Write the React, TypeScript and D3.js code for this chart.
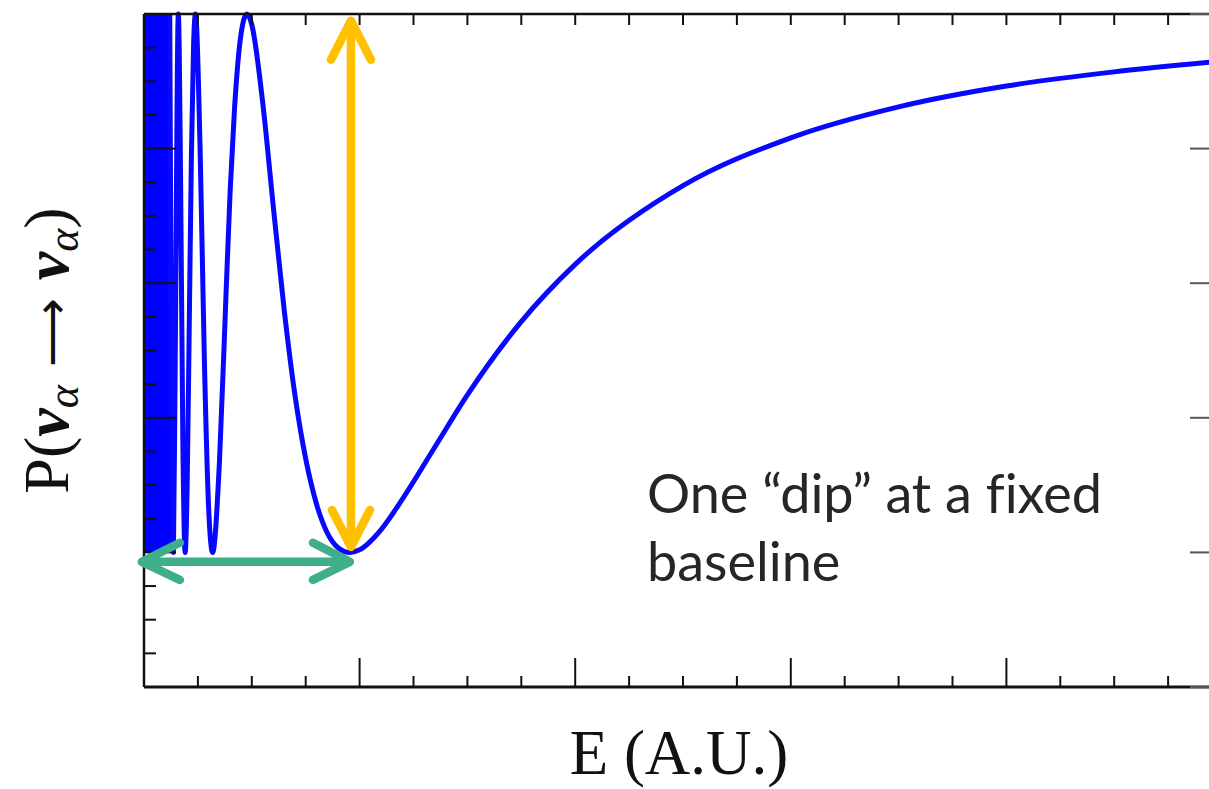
import React from "react";
import * as d3 from "d3";

// Survival probability curve (E in A.U., P)
const energy = [
  0.1194, 0.1364, 0.145, 0.1592, 0.17, 0.18, 0.191, 0.2, 0.21, 0.22, 0.23, 0.2387,
  0.26, 0.28, 0.3, 0.3183, 0.35, 0.38, 0.4, 0.42, 0.45, 0.4775, 0.5, 0.55, 0.6,
  0.65, 0.7, 0.75, 0.8, 0.85, 0.9, 0.955, 1.0, 1.1, 1.2, 1.35, 1.5, 1.75, 2.0,
  2.5, 3.0, 3.5, 4.0, 4.5, 5.0,
];
const probability = [
  1.0, 0.2, 0.495, 1.0, 0.744, 0.37, 0.2, 0.296, 0.541, 0.792, 0.955, 1.0,
  0.803, 0.486, 0.264, 0.2, 0.335, 0.58, 0.74, 0.86, 0.97, 1.0, 0.984, 0.87, 0.713,
  0.561, 0.434, 0.339, 0.272, 0.229, 0.207, 0.2, 0.204, 0.234, 0.28, 0.357, 0.434,
  0.543, 0.628, 0.745, 0.816, 0.862, 0.893, 0.914, 0.93,
];
// Unresolved fast oscillations at low energy (solid band)
const denseBandE = [0, 0.128];
const denseBandP = [0.2, 1.0];

const xMajorTicks = [0, 1, 2, 3, 4, 5];
const xMinorTicks = [0.25, 0.5, 0.75, 1.25, 1.5, 1.75, 2.25, 2.5, 2.75, 3.25, 3.5, 3.75, 4.25, 4.5, 4.75];
const yMajorTicks = [0, 0.2, 0.4, 0.6, 0.8, 1.0];
const yMinorTicks = [0.05, 0.1, 0.15, 0.25, 0.3, 0.35, 0.45, 0.5, 0.55, 0.65, 0.7, 0.75, 0.85, 0.9, 0.95];

// Annotation arrows (data coordinates)
const depthArrowE = 0.96;
const depthArrowP = [0.99, 0.208];
const widthArrowE = [-0.01, 0.955];
const widthArrowP = 0.186;

const annotationLines = ["One \u201Cdip\u201D at a fixed", "baseline"];

const W = 1209;
const H = 789;

export default function App() {
  const x = d3.scaleLinear().domain([0, 5]).range([144, 1222]);
  const y = d3.scaleLinear().domain([0, 1]).range([687, 14]);

  const pts = energy.map((e, i) => [e, probability[i]] as [number, number]);
  const line = d3
    .line<[number, number]>()
    .x((d) => x(d[0]))
    .y((d) => y(d[1]))
    .curve(d3.curveMonotoneX);

  const band = d3
    .area<number>()
    .x((d) => x(d))
    .y0(y(denseBandP[0]))
    .y1(y(denseBandP[1]));

  const [x0, x1] = x.range();
  const [yb, yt] = y.range();

  const axisColor = "#111";

  const ax = x(depthArrowE);
  const aTop = y(depthArrowP[0]);
  const aBot = y(depthArrowP[1]);
  const gy = y(widthArrowP);
  const gL = x(widthArrowE[0]);
  const gR = x(widthArrowE[1]);

  return (
    <svg
      width={W}
      height={H}
      style={{ position: "absolute", left: 0, top: 0, background: "#fff" }}
    >
      <rect x={0} y={0} width={W} height={H} fill="#fff" />
      <path d={band(denseBandE) || ""} fill="#0000ff" />
      <path
        d={line(pts) || ""}
        fill="none"
        stroke="#0808ff"
        strokeWidth={5}
        strokeLinejoin="round"
      />

      {/* frame */}
      <line x1={x0} y1={yb} x2={x1} y2={yb} stroke={axisColor} strokeWidth={3} />
      <line x1={x0} y1={yt} x2={x1} y2={yt} stroke={axisColor} strokeWidth={2.5} />
      <line x1={x0} y1={yt} x2={x0} y2={yb} stroke={axisColor} strokeWidth={2.5} />
      <line x1={x1} y1={yt} x2={x1} y2={yb} stroke={axisColor} strokeWidth={2.5} />

      {xMajorTicks.map((t) => (
        <g key={"xM" + t}>
          <line x1={x(t)} x2={x(t)} y1={yb} y2={yb - 29} stroke={axisColor} strokeWidth={2} />
          <line x1={x(t)} x2={x(t)} y1={yt} y2={yt + 11} stroke={axisColor} strokeWidth={2} />
        </g>
      ))}
      {xMinorTicks.map((t) => (
        <g key={"xm" + t}>
          <line x1={x(t)} x2={x(t)} y1={yb} y2={yb - 11} stroke={axisColor} strokeWidth={2} />
          <line x1={x(t)} x2={x(t)} y1={yt} y2={yt + 11} stroke={axisColor} strokeWidth={2} />
        </g>
      ))}
      {yMajorTicks.map((t) => (
        <g key={"yM" + t}>
          <line x1={x0} x2={x0 + 32} y1={y(t)} y2={y(t)} stroke={axisColor} strokeWidth={2} />
          <line x1={x1} x2={x1 - 32} y1={y(t)} y2={y(t)} stroke="#555" strokeWidth={2} />
        </g>
      ))}
      {yMinorTicks.map((t) => (
        <g key={"ym" + t}>
          <line x1={x0} x2={x0 + 12} y1={y(t)} y2={y(t)} stroke={axisColor} strokeWidth={2} />
          <line x1={x1} x2={x1 - 12} y1={y(t)} y2={y(t)} stroke="#777" strokeWidth={1.5} />
        </g>
      ))}

      <g stroke="#FFC000" strokeWidth={8.5} strokeLinecap="round" strokeLinejoin="round" fill="none">
        <line x1={ax} y1={aTop + 2} x2={ax} y2={aBot - 2} />
        <polyline points={`${ax - 20},${aTop + 39} ${ax},${aTop} ${ax + 20},${aTop + 39}`} />
        <polyline points={`${ax - 19},${aBot - 37} ${ax},${aBot} ${ax + 19},${aBot - 37}`} />
      </g>
      <g stroke="#3FAE8A" strokeWidth={8.5} strokeLinecap="round" strokeLinejoin="round" fill="none">
        <line x1={gL + 2} y1={gy} x2={gR - 2} y2={gy} />
        <polyline points={`${gL + 38},${gy - 19} ${gL},${gy} ${gL + 38},${gy + 18}`} />
        <polyline points={`${gR - 37},${gy - 19} ${gR},${gy} ${gR - 37},${gy + 18}`} />
      </g>

      <text
        fontFamily="Lato, 'Open Sans', sans-serif"
        fontSize={54}
        fill="#262626"
        style={{ fontVariantLigatures: "none" }}
      >
        {annotationLines.map((s, i) => (
          <tspan key={i} x={647} y={513 + i * 68}>
            {s}
          </tspan>
        ))}
      </text>

      <text
        x={(x0 + x1) / 2 - 4}
        y={774}
        textAnchor="middle"
        fontFamily="'Liberation Serif', 'DejaVu Serif', serif"
        fontSize={63}
        fill="#111"
      >
        E (A.U.)
      </text>

      <text
        transform={`translate(68, ${(yt + yb) / 2}) rotate(-90)`}
        textAnchor="middle"
        fontFamily="'Liberation Serif', 'DejaVu Serif', serif"
        fontSize={64}
        fill="#111"
      >
        <tspan>P(</tspan>
        <tspan fontStyle="italic" fontWeight="bold">ν</tspan>
        <tspan fontStyle="italic" fontSize={44} dy={10}>α</tspan>
        <tspan dy={-10} dx={18} fontFamily="'DejaVu Sans', sans-serif" fontSize={48} fontWeight={200}>⟶</tspan>
        <tspan dx={18} fontStyle="italic" fontWeight="bold">ν</tspan>
        <tspan fontStyle="italic" fontSize={44} dy={10}>α</tspan>
        <tspan dy={-10}>)</tspan>
      </text>
    </svg>
  );
}
